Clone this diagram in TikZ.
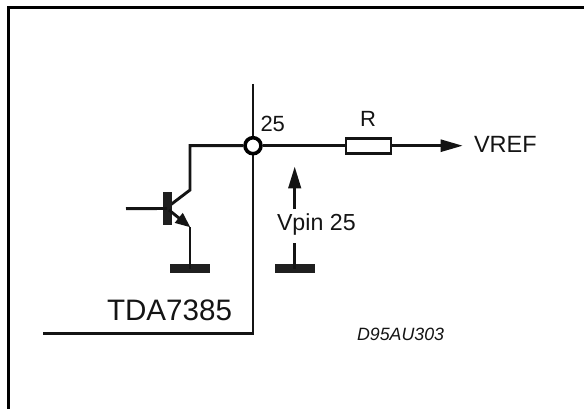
\documentclass[tikz,border=0pt]{standalone}
\usepackage{fontspec}
\setmainfont{Liberation Sans}
\usetikzlibrary{arrows.meta}
\tikzset{
  wire/.style={line width=2.9pt,black!92,line cap=butt,line join=miter},
  thin wire/.style={line width=2.5pt,black!92},
  frameline/.style={line width=3pt,black,line cap=butt,line join=miter},
  lbl/.style={inner sep=0pt,outer sep=0pt,anchor=base west,text=black!92},
  groundbar/.style={draw=none,fill=black!88,minimum width=40pt,minimum height=9pt,inner sep=0pt,outer sep=0pt},
  pinring/.style={circle,draw=black,line width=3.6pt,fill=white,minimum size=16pt,inner sep=0pt,outer sep=1.8pt},
  res/.style={rectangle,draw=black!92,line width=2.8pt,fill=white,minimum width=45pt,minimum height=15pt,inner sep=0pt,outer sep=1.4pt},
  basebar/.style={draw=none,fill=black!88,minimum width=8.6pt,minimum height=32.5pt,inner sep=0pt,outer sep=0pt}
}
\begin{document}
\begin{tikzpicture}[x=1pt,y=-1pt]
\useasboundingbox (0,0) rectangle (584,409);
% frame
\coordinate (fa) at (8.5,409);
\coordinate (fb) at (8.5,7.5);
\coordinate (fc) at (584,7.5);
\draw[frameline] (fa) -- (fb) -- (fc);
% chip outline
\coordinate (chipT) at (253,84);
\coordinate (chipB) at (253,333.3);
\coordinate (chipL) at (43,333.3);
\draw[wire] (chipT) -- (chipB) -- (chipL);
% pin
\node[pinring] (pin) at (253,145.7) {};
% collector path
\coordinate (cTop) at (190,145.7);
\coordinate (cEnd) at (190,190);
\coordinate (cBase) at (169,206);
\draw[wire] (pin) -- (cTop) -- (cEnd) -- (cBase);
% transistor
\node[basebar] (bb) at (167.2,208.5) {};
\coordinate (bIn) at (126,208.7);
\draw[wire] (bIn) -- (bb.center);
\coordinate (eStart) at (169,210);
\coordinate (eEnd) at (190,227);
\node[groundbar] (g1) at (190,268.5) {};
\draw[wire] (eEnd) -- (g1.center);
\draw[wire,-{Triangle[length=15pt,width=12pt]},shorten >=-0.5pt] (eStart) -- (eEnd);
% voltage arrow
\node[groundbar] (g2) at (294.7,268.5) {};
\coordinate (vUpEnd) at (294.7,243);
\draw[wire] (g2.center) -- (vUpEnd);
\coordinate (vaStart) at (294.7,209);
\coordinate (vaTip) at (294.7,166.5);
\draw[wire,-{Triangle[length=22pt,width=12.5pt]}] (vaStart) -- (vaTip);
% resistor and output
\node[res] (r) at (368.5,145.7) {};
\coordinate (vref) at (462.7,145.7);
\draw[wire] (pin) -- (r);
\draw[thin wire,-{Triangle[length=22pt,width=12pt]}] (r) -- (vref);
% labels
\node[lbl,font=\fontsize{22}{26}\selectfont] (t25) at (260.5,132) {25};
\node[lbl,font=\fontsize{22}{26}\selectfont] (tR) at (360,127) {R};
\node[lbl,font=\fontsize{23.5}{28}\selectfont] (tV) at (474,152.7) {VREF};
\node[lbl,font=\fontsize{23.2}{28}\selectfont] (tP) at (277,230) {Vpin 25};
\node[lbl,font=\fontsize{29.6}{34}\selectfont] (tD) at (107,320) {TDA7385};
\node[lbl,font=\fontsize{17.8}{21}\selectfont\itshape] (tC) at (357,340.7) {D95AU303};
\end{tikzpicture}
\end{document}
